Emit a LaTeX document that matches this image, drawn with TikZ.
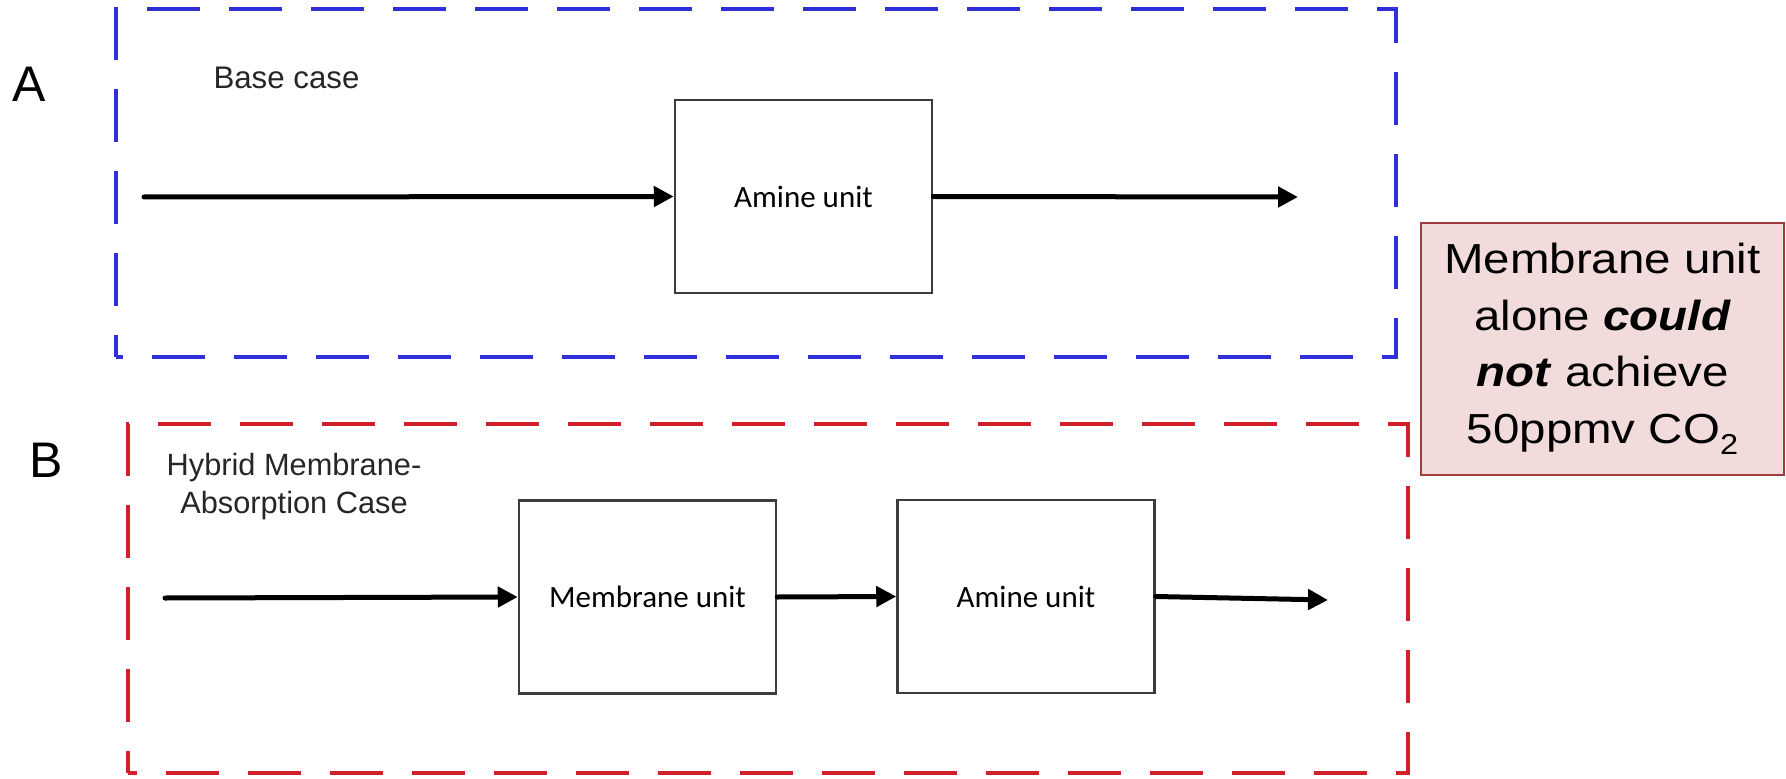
\documentclass[tikz,border=0pt]{standalone}
\usepackage{fontspec}
\setmainfont{Liberation Sans}
\newfontfamily\calfont{Carlito}
\newfontfamily\notefont{Liberation Sans}[FakeStretch=1.13]
\usetikzlibrary{arrows.meta}
\definecolor{dblue}{RGB}{48,48,216}
\definecolor{dred}{RGB}{208,32,42}
\definecolor{notefill}{RGB}{242,220,219}
\definecolor{noteedge}{RGB}{160,60,60}
\definecolor{boxedge}{RGB}{60,60,60}
\newcommand{\lowsub}[1]{\raisebox{-0.28em}{\fontsize{11.5}{12}\selectfont #1}}
\begin{document}
\begin{tikzpicture}[x=0.4pt,y=-0.4pt,
  frame/.style={line width=1.6pt, dash pattern=on 21.2pt off 11.6pt, dash phase=12.4pt},
  unit/.style={draw=boxedge, line width=1pt, fill=white, minimum width=102.8pt,
    minimum height=77.2pt, inner sep=0pt, font=\calfont\fontsize{12.4}{15}\selectfont},
  flow/.style={line width=2pt, line cap=round, -{Triangle[length=8pt,width=8pt]}},
  letter/.style={inner sep=0pt, font=\fontsize{20}{24}\selectfont},
  caption/.style={inner sep=0pt, text=black!85},
  note/.style={draw=noteedge, fill=notefill, line width=0.8pt, minimum width=145.2pt,
    minimum height=100.8pt, inner sep=0pt, align=center,
    font=\notefont\fontsize{16.8}{22.6}\selectfont}]
\useasboundingbox (0,0) rectangle (1786,779);
% frames
\draw[frame, dblue] (116,357) -- (116,9) -- (1396,9) -- (1396,357) -- cycle;
\draw[frame, dred] (128,773) -- (128,424) -- (1408,424) -- (1408,773) -- cycle;
% labels
\node[letter] (lA) at (29,84) {A};
\node[letter] (lB) at (46,460) {B};
\node[caption, anchor=base west, font=\fontsize{12.5}{15}\selectfont] (capA) at (213,89) {Base case};
\node[caption, anchor=north, align=center, font=\fontsize{12.3}{15.2}\selectfont] (capB) at (294,453) {Hybrid Membrane-\\Absorption Case};
% units
\node[unit] (amineA) at (803.5,196.5) {Amine unit};
\node[unit] (mem) at (647.5,597) {Membrane unit};
\node[unit] (amineB) at (1026,596.5) {Amine unit};
% note
\node[note] (note) at (1602.5,349) {Membrane unit\\alone \textbf{\textit{could}}\\\textbf{\textit{not}} achieve\\50ppmv CO\lowsub{2}};
% flows
\coordinate (a0) at (144,197);
\coordinate (a1) at (1298,197);
\coordinate (b0) at (165,598);
\coordinate (b3) at (1328,600);
\draw[flow] (a0) -- (amineA.west);
\draw[flow] (amineA.east) -- (a1);
\draw[flow] (b0) -- (mem.west);
\draw[flow] (mem.east) -- (amineB.west);
\draw[flow] (amineB.east) -- (b3);
\end{tikzpicture}
\end{document}
